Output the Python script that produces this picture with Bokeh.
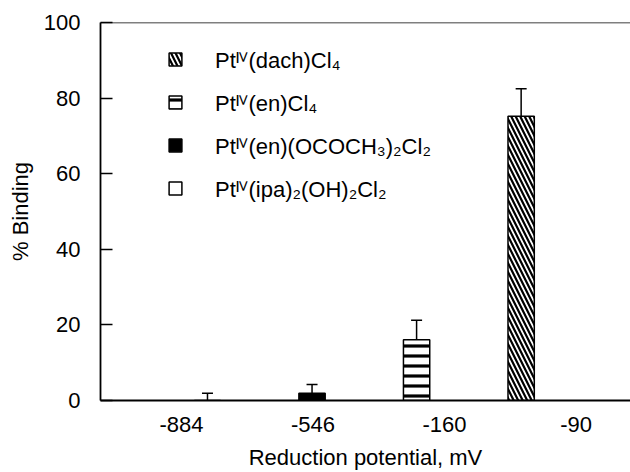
from bokeh.plotting import figure
from bokeh.models import (ColumnDataSource, Whisker, TeeHead, Legend, LegendItem,
                          Span, FixedTicker, Range1d)
from bokeh.embed import file_html
from bokeh.resources import INLINE

# ---- data ----
categories = ["-884", "-546", "-160", "-90"]
series = ["Ptᴵⱽ(dach)Cl₄", "Ptᴵⱽ(en)Cl₄",
          "Ptᴵⱽ(en)(OCOCH₃)₂Cl₂", "Ptᴵⱽ(ipa)₂(OH)₂Cl₂"]
series_category = ["-90", "-160", "-546", "-884"]
binding = [75.2, 16.1, 1.9, 0.0]
error = [7.3, 5.1, 2.3, 1.9]
y_ticks = [0, 20, 40, 60, 80, 100]

# ---- styles ----
styles = [
    dict(fill_color="white", hatch_pattern="\\", hatch_color="black", hatch_scale=9, hatch_weight=2.2),
    dict(fill_color="white", hatch_pattern="-", hatch_color="black", hatch_scale=10, hatch_weight=3.2),
    dict(fill_color="black"),
    dict(fill_color="white"),
]
FONT = "Liberation Sans"
FS = "22px"
bar_w = 0.2

p = figure(width=630, height=472, output_backend="svg", toolbar_location=None,
           x_range=Range1d(-0.616, 3.414), y_range=Range1d(0, 100),
           min_border_left=100, min_border_right=0, min_border_top=22, min_border_bottom=72)
p.outline_line_color = None
p.xgrid.visible = False
p.ygrid.visible = False
p.background_fill_color = "white"

renderers = []
for i, name in enumerate(series):
    xpos = categories.index(series_category[i]) + (i - 1.5) * 0.205 - 0.11
    src = ColumnDataSource(dict(x=[xpos], top=[binding[i]],
                                upper=[binding[i] + error[i]],
                                lower=[max(binding[i] - error[i], 0)]))
    r = p.vbar(x="x", top="top", bottom=0, width=bar_w, source=src,
               line_color="black", line_width=1.5, **styles[i])
    renderers.append(r)
    w = Whisker(source=src, base="x", upper="upper", lower="lower", dimension="height",
                line_color="black", line_width=1.5,
                upper_head=TeeHead(size=11, line_color="black", line_width=1.5),
                lower_head=None)
    p.add_layout(w)

p.add_layout(Span(location=100, dimension="width", line_color="black", line_width=1.5))

# axes
p.yaxis.ticker = FixedTicker(ticks=y_ticks)
p.yaxis.minor_tick_line_color = None
p.yaxis.major_tick_in = 12
p.yaxis.major_tick_out = 0
p.yaxis.major_label_standoff = 20
p.yaxis.axis_label = "% Binding"
p.yaxis.axis_label_standoff = 8

p.xaxis.ticker = FixedTicker(ticks=list(range(len(categories))))
p.xaxis.major_label_overrides = {i: c for i, c in enumerate(categories)}
p.xaxis.minor_tick_line_color = None
p.xaxis.major_tick_line_color = None
p.xaxis.major_tick_in = 0
p.xaxis.major_tick_out = 0
p.xaxis.major_label_standoff = 16
p.xaxis.axis_label = "Reduction potential, mV"
p.xaxis.axis_label_standoff = 10

for ax in (p.xaxis[0], p.yaxis[0]):
    ax.axis_line_width = 1.8
    ax.axis_line_color = "black"
    ax.major_tick_line_width = 1.5
    ax.major_label_text_font = FONT
    ax.major_label_text_font_size = FS
    ax.major_label_text_color = "black"
    ax.axis_label_text_font = FONT
    ax.axis_label_text_font_size = FS
    ax.axis_label_text_font_style = "normal"
    ax.axis_label_text_color = "black"

legend = Legend(items=[LegendItem(label=series[i], renderers=[renderers[i]]) for i in range(4)],
                location=(67, 197), orientation="vertical",
                glyph_width=16, glyph_height=16, label_height=16, spacing=13,
                label_standoff=32, padding=0, margin=0,
                label_text_font=FONT, label_text_font_size=FS, label_text_color="black",
                border_line_color=None, background_fill_alpha=0)
p.add_layout(legend)

open("out.html", "w").write(file_html(p, INLINE))
